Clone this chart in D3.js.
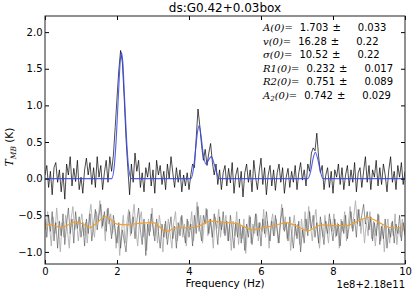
<!DOCTYPE html>
<html>
<head>
<meta charset="utf-8">
<script src="https://cdn.jsdelivr.net/npm/d3@7"></script>
<style>
  body { margin: 0; background: #fff; }
  svg { display: block; font-family: "DejaVu Sans", sans-serif; }
  .tick line { stroke: #000; }
  .domain { display: none; }
</style>
</head>
<body>
<div id="chart"></div>
<script>
// spectrum channels: 0..10 (x 1e8 + 2.18e11 Hz), step 0.05
var specStart = 0, specStep = 0.05;
var spectrum = [
  0.05, 0.18, -0.12, 0.10, -0.22, 0.15, 0.22, -0.05, 0.12, -0.18,
  0.08, -0.28, 0.20, 0.05, 0.30, -0.10, 0.14, -0.04, 0.25, -0.15,
  0.02, -0.20, 0.12, 0.28, 0.05, 0.22, -0.08, 0.15, -0.12, 0.30,
  0.02, 0.18, -0.15, 0.08, 0.25, -0.05, 0.30, 0.10, 0.32, 0.70,
  1.10, 1.48, 1.75, 1.58, 1.10, 0.55, 0.15, -0.22, 0.20, -0.05,
  0.35, 0.10, 0.25, -0.12, 0.08, -0.18, 0.15, 0.02, 0.22, -0.10,
  0.12, -0.20, 0.25, 0.05, 0.18, -0.08, 0.10, -0.15, 0.20, 0.00,
  0.30, 0.08, -0.12, 0.15, -0.05, 0.12, -0.18, 0.05, -0.10, 0.08,
  -0.15, 0.05, 0.20, 0.15, 0.55, 0.95, 0.72, 0.45, 0.25, 0.40,
  0.18, 0.35, 0.48, 0.22, 0.05, 0.20, -0.08, 0.12, -0.15, 0.08,
  0.18, -0.10, 0.14, -0.06, 0.22, -0.20, 0.05, 0.15, -0.12, 0.10,
  -0.25, 0.08, 0.20, -0.05, 0.12, -0.18, 0.25, 0.02, -0.15, 0.10,
  0.28, -0.08, 0.15, -0.22, 0.05, 0.18, -0.10, 0.12, -0.16, 0.08,
  0.20, -0.05, 0.15, -0.20, 0.02, 0.14, -0.12, 0.10, -0.05, 0.18,
  -0.15, 0.08, 0.22, -0.02, 0.12, -0.10, 0.20, 0.10, 0.35, 0.42,
  0.38, 0.62, 0.30, 0.08, 0.18, -0.15, 0.05, 0.15, -0.12, 0.10,
  -0.20, 0.12, 0.02, 0.20, -0.08, 0.15, -0.15, 0.05, 0.18, -0.10,
  0.12, -0.05, 0.22, -0.18, 0.08, 0.15, -0.12, 0.10, 0.30, -0.05,
  0.18, -0.15, 0.12, 0.02, 0.25, -0.10, 0.15, -0.08, 0.20, 0.05,
  -0.18, 0.12, 0.30, -0.05, 0.10, -0.15, 0.18, 0.02, 0.22, -0.08,
  0.10
];

// offset copy of the spectrum shown below the fit (dark trace)
var lowerDark = [
  -0.55, -0.80, -0.50, -0.72, -0.45, -0.85, -0.60, -0.95, -0.58, -0.78,
  -0.48, -0.90, -0.62, -0.40, -0.75, -0.55, -0.88, -0.45, -0.68, -0.52,
  -0.80, -0.60, -0.92, -0.55, -0.75, -0.48, -0.85, -0.62, -0.42, -0.70,
  -0.50, -0.35, -0.65, -0.45, -0.72, -0.40, -0.60, -0.82, -0.50, -0.70,
  -0.88, -0.60, -0.95, -0.70, -0.85, -1.00, -0.65, -0.45, -0.75, -0.52,
  -0.82, -0.58, -0.40, -0.70, -0.90, -0.55, -1.05, -0.62, -0.78, -0.48,
  -0.68, -0.85, -0.55, -0.72, -0.95, -0.62, -0.80, -0.58, -0.90, -0.70,
  -0.52, -0.82, -0.65, -0.95, -0.60, -0.78, -0.50, -0.72, -0.88, -0.55,
  -0.80, -0.62, -0.92, -0.50, -0.75, -0.38, -0.68, -0.85, -0.50, -0.62,
  -0.42, -0.75, -0.55, -0.80, -0.48, -0.65, -0.90, -0.52, -0.70, -0.45,
  -0.78, -0.58, -0.85, -0.50, -0.72, -0.95, -0.60, -0.80, -0.55, -0.88,
  -0.65, -0.98, -0.62, -0.80, -0.52, -0.90, -0.70, -0.48, -0.78, -0.60,
  -0.92, -0.55, -0.75, -0.45, -0.68, -0.85, -0.58, -0.78, -0.50, -0.70,
  -0.88, -0.55, -0.40, -0.72, -0.60, -0.85, -0.52, -0.75, -0.95, -0.62,
  -0.82, -0.58, -1.00, -0.70, -0.88, -0.55, -0.78, -0.45, -0.68, -0.50,
  -0.80, -0.60, -0.88, -0.52, -0.72, -0.90, -0.58, -0.75, -0.48, -0.68,
  -0.85, -0.55, -0.78, -0.62, -0.92, -0.58, -0.75, -0.50, -0.82, -0.65,
  -0.45, -0.72, -0.55, -0.80, -0.42, -0.65, -0.50, -0.35, -0.62, -0.45,
  -0.70, -0.52, -0.85, -0.60, -0.78, -0.48, -0.90, -0.65, -0.82, -0.55,
  -0.95, -0.68, -0.80, -0.58, -0.88, -0.62, -0.75, -0.50, -0.85, -0.60,
  -0.78
];

// light grey trace, channels offset by half a step
var lowerLightStart = 0.025;
var lowerLight = [
  -0.70, -0.45, -0.65, -0.92, -0.52, -0.75, -0.40, -0.68, -1.00, -0.60,
  -0.80, -0.50, -0.72, -0.95, -0.55, -0.38, -0.70, -0.58, -0.85, -0.62,
  -0.48, -0.78, -0.60, -0.88, -0.52, -0.35, -0.65, -0.80, -0.45, -0.58,
  -0.30, -0.68, -0.50, -0.85, -0.42, -0.62, -0.48, -0.75, -0.58, -0.95,
  -0.65, -1.05, -0.72, -0.50, -0.88, -0.60, -0.42, -0.78, -0.55, -0.35,
  -0.70, -0.92, -0.58, -0.45, -0.80, -0.62, -0.98, -0.55, -0.72, -0.40,
  -0.78, -0.60, -0.88, -0.50, -0.68, -1.00, -0.62, -0.82, -0.55, -0.75,
  -0.95, -0.60, -0.45, -0.85, -0.68, -0.52, -0.80, -0.62, -0.92, -0.58,
  -0.70, -0.45, -0.85, -0.60, -0.32, -0.72, -0.50, -0.88, -0.62, -0.40,
  -0.78, -0.55, -0.70, -0.95, -0.52, -0.68, -0.42, -0.80, -0.58, -0.75,
  -0.50, -0.85, -0.62, -0.98, -0.58, -0.78, -0.45, -0.90, -0.65, -0.82,
  -0.55, -1.02, -0.70, -0.50, -0.88, -0.62, -0.75, -0.48, -0.85, -0.60,
  -0.72, -0.42, -0.80, -0.58, -0.95, -0.62, -0.48, -0.78, -0.55, -0.88,
  -0.65, -0.35, -0.70, -0.52, -0.82, -0.60, -0.98, -0.68, -0.50, -0.78,
  -0.62, -0.90, -0.55, -0.80, -0.45, -0.72, -0.38, -0.65, -0.85, -0.58,
  -0.42, -0.75, -0.95, -0.60, -0.80, -0.50, -0.70, -0.88, -0.55, -0.72,
  -0.48, -0.80, -0.60, -0.95, -0.55, -0.72, -0.45, -0.85, -0.62, -0.38,
  -0.68, -0.52, -0.30, -0.62, -0.42, -0.75, -0.55, -0.88, -0.60, -0.78,
  -0.45, -0.82, -0.58, -0.92, -0.65, -0.50, -0.85, -0.62, -1.00, -0.70,
  -0.55, -0.88, -0.60, -0.78, -0.48, -0.90, -0.65, -0.80, -0.55, -0.72
];

// baseline (orange)
var baseX = [0, 0.25, 0.45, 0.65, 0.85, 1.05, 1.25, 1.45, 1.67, 1.85, 2.0, 2.3, 2.6, 3.0, 3.37, 3.67, 3.95, 4.2, 4.6, 5.0, 5.3, 5.5, 5.76, 6.05, 6.38, 6.7, 7.0, 7.3, 7.68, 8.0, 8.38, 8.65, 8.97, 9.25, 9.62, 10];
var baseY = [-0.62, -0.64, -0.67, -0.63, -0.59, -0.62, -0.67, -0.60, -0.52, -0.57, -0.62, -0.63, -0.61, -0.60, -0.72, -0.67, -0.67, -0.66, -0.58, -0.60, -0.61, -0.65, -0.70, -0.67, -0.64, -0.60, -0.65, -0.71, -0.63, -0.64, -0.64, -0.59, -0.53, -0.59, -0.67, -0.67];

// model fit (blue)
var fitX = [0, 1.85, 1.92, 1.98, 2.04, 2.09, 2.12, 2.16, 2.21, 2.27, 2.33, 2.40, 4.05, 4.12, 4.18, 4.24, 4.28, 4.33, 4.40, 4.47, 4.55, 4.62, 4.70, 4.78, 4.85, 7.30, 7.38, 7.45, 7.51, 7.57, 7.65, 7.72, 10];
var fitY = [0, 0, 0.15, 0.55, 1.15, 1.60, 1.72, 1.60, 1.10, 0.50, 0.12, 0, 0, 0.12, 0.38, 0.65, 0.72, 0.60, 0.32, 0.20, 0.26, 0.30, 0.20, 0.06, 0, 0, 0.10, 0.28, 0.36, 0.28, 0.10, 0, 0];

var xTicks = [0, 2, 4, 6, 8, 10];
var yTicks = [-1.0, -0.5, 0.0, 0.5, 1.0, 1.5, 2.0];

var title = "ds:G0.42+0.03box";
var paramNames = ["A(0)=", "v(0)=", "\u03c3(0)=", "R1(0)=", "R2(0)=", "A(0)="];
var paramValues = ["1.703", "16.28", "10.52", "0.232", "0.751", "0.742"];
var paramErrors = ["0.033", "0.22", "0.22", "0.017", "0.089", "0.029"];

var W = 415, H = 295;
var margin = {top: 16, right: 10, bottom: 31, left: 45};
var width = W - margin.left - margin.right,
    height = H - margin.top - margin.bottom;

var svg = d3.select("#chart").append("svg")
    .attr("width", W)
    .attr("height", H);

var xScale = d3.scaleLinear().domain([0, 10]).range([0, width]);
var yScale = d3.scaleLinear().domain([-1.165, 2.22]).range([height, 0]);

var g = svg.append("g")
    .attr("transform", "translate(" + margin.left + "," + margin.top + ")");

g.append("clipPath").attr("id", "clip")
    .append("rect").attr("width", width).attr("height", height);

var plot = g.append("g").attr("clip-path", "url(#clip)");

var line = d3.line()
    .x(function (d) { return xScale(d[0]); })
    .y(function (d) { return yScale(d[1]); });

var specPts = spectrum.map(function (v, i) { return [specStart + i * specStep, v]; });
var darkPts = lowerDark.map(function (v, i) { return [specStart + i * specStep, v]; });
var lightPts = lowerLight.map(function (v, i) { return [lowerLightStart + i * specStep, v]; });
var basePts = baseX.map(function (x, i) { return [x, baseY[i]]; });
var fitPts = fitX.map(function (x, i) { return [x, fitY[i]]; });

plot.append("path").datum(lightPts)
    .attr("d", line)
    .attr("fill", "none").attr("stroke", "#b0b0b0").attr("stroke-width", 0.9);

plot.append("path").datum(darkPts)
    .attr("d", line)
    .attr("fill", "none").attr("stroke", "#444").attr("stroke-width", 0.7)
    .attr("stroke-opacity", 0.8);

plot.append("path").datum(basePts)
    .attr("d", line.curve(d3.curveMonotoneX))
    .attr("fill", "none").attr("stroke", "#f0a030").attr("stroke-width", 1.2);

line.curve(d3.curveLinear);

plot.append("path").datum(specPts)
    .attr("d", line)
    .attr("fill", "none").attr("stroke", "#000").attr("stroke-width", 0.7);

plot.append("path").datum(fitPts)
    .attr("d", line.curve(d3.curveMonotoneX))
    .attr("fill", "none").attr("stroke", "#3344ee").attr("stroke-width", 1.1)
    .attr("stroke-opacity", 0.85);

// axes, ticks pointing inwards on all four sides
var fmtY = d3.format(".1f");
g.append("g")
    .call(d3.axisLeft(yScale).tickValues(yTicks).tickFormat(fmtY).tickSize(-4).tickPadding(2.5))
    .call(function (s) { s.selectAll("text").attr("font-size", 10).attr("fill", "#000").attr("font-family", "DejaVu Sans"); });
g.append("g")
    .attr("transform", "translate(" + width + ",0)")
    .call(d3.axisRight(yScale).tickValues(yTicks).tickFormat("").tickSize(-4));
g.append("g")
    .attr("transform", "translate(0," + height + ")")
    .call(d3.axisBottom(xScale).tickValues(xTicks).tickFormat(d3.format("d")).tickSize(-4).tickPadding(4))
    .call(function (s) { s.selectAll("text").attr("font-size", 10).attr("fill", "#000").attr("font-family", "DejaVu Sans"); });
g.append("g")
    .call(d3.axisTop(xScale).tickValues(xTicks).tickFormat("").tickSize(-4));

g.append("rect")
    .attr("width", width).attr("height", height)
    .attr("fill", "none").attr("stroke", "#222").attr("stroke-width", 1);

// title and labels
svg.append("text")
    .attr("x", margin.left + width / 2).attr("y", 12)
    .attr("text-anchor", "middle").attr("font-size", 12)
    .text(title);

svg.append("text")
    .attr("x", margin.left + width / 2).attr("y", 287)
    .attr("text-anchor", "middle").attr("font-size", 10.5)
    .text("Frequency (Hz)");

svg.append("text")
    .attr("x", margin.left + width).attr("y", 288)
    .attr("text-anchor", "end").attr("font-size", 10)
    .text("1e8+2.18e11");

var yl = svg.append("text")
    .attr("transform", "translate(13,147) rotate(-90)")
    .attr("text-anchor", "middle").attr("font-size", 10.5);
yl.append("tspan").attr("font-family", "DejaVu Serif").attr("font-style", "italic").text("T");
yl.append("tspan").attr("font-family", "DejaVu Serif").attr("font-style", "italic")
    .attr("font-size", 7.5).attr("dy", 2.5).text("MB");
yl.append("tspan").attr("dy", -2.5).text(" (K)");

// fit parameters
paramNames.forEach(function (name, i) {
    var t = svg.append("text")
        .attr("x", 263).attr("y", 31 + i * 13.6)
        .attr("font-size", 10);
    t.append("tspan").attr("font-family", "DejaVu Serif").attr("font-style", "italic")
        .text(name.slice(0, 1));
    if (i === 5) {
        t.append("tspan").attr("font-family", "DejaVu Serif").attr("font-style", "italic")
            .attr("font-size", 7).attr("dy", 2).text("2");
        t.append("tspan").attr("font-family", "DejaVu Serif").attr("font-style", "italic")
            .attr("dy", -2).text(name.slice(1));
    } else {
        t.append("tspan").attr("font-family", "DejaVu Serif").attr("font-style", "italic")
            .text(name.slice(1));
    }
    t.append("tspan").attr("dx", 7).text(paramValues[i]);
    t.append("tspan").attr("dx", 4).text("\u00b1");
    t.append("tspan").attr("dx", 17).text(paramErrors[i]);
});
</script>
</body>
</html>
